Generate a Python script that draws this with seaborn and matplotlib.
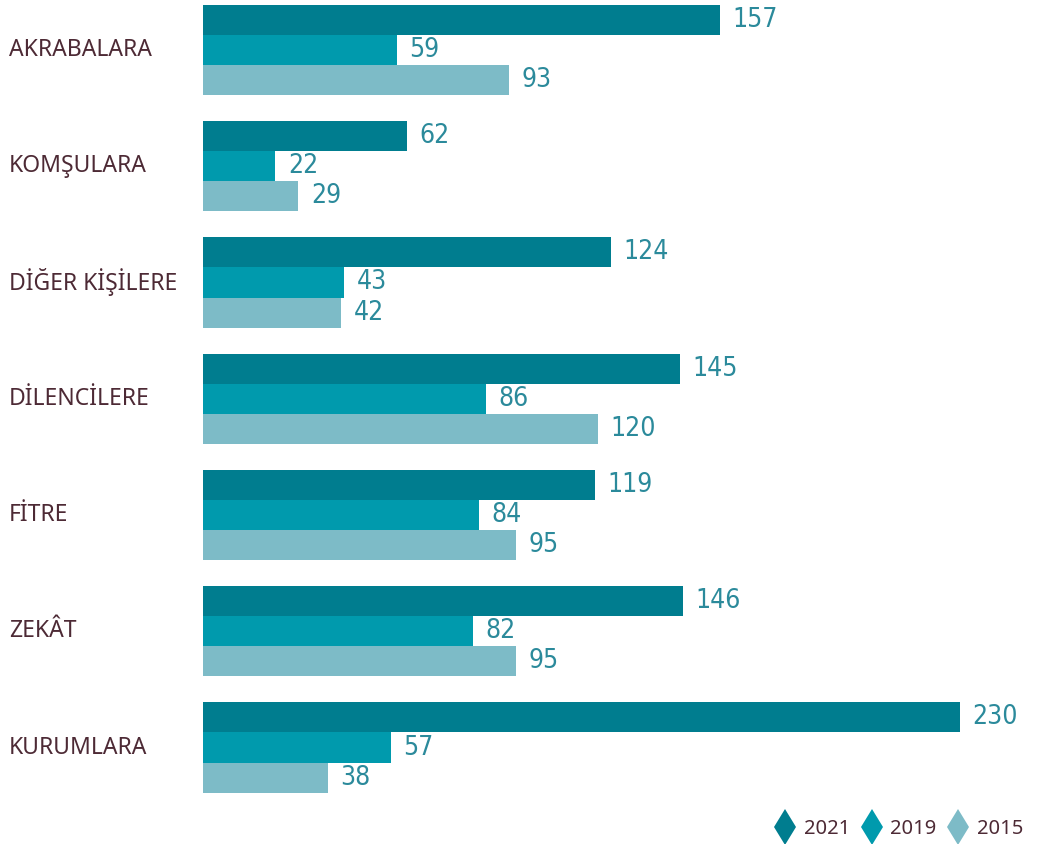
import pandas as pd
import matplotlib.pyplot as plt
import matplotlib.transforms as mtransforms
from matplotlib.lines import Line2D
import seaborn as sns

# --- Datos ---
kategoriler = ["AKRABALARA", "KOMŞULARA", "DİĞER KİŞİLERE", "DİLENCİLERE",
               "FİTRE", "ZEKÂT", "KURUMLARA"]
yillar = ["2021", "2019", "2015"]
v2021 = [157, 62, 124, 145, 119, 146, 230]
v2019 = [59, 22, 43, 86, 84, 82, 57]
v2015 = [93, 29, 42, 120, 95, 95, 38]

renkler = ["#007d8f", "#009aad", "#7dbbc7"]
yazi_rengi = "#4d2a35"
sayi_rengi = "#2b8a9b"

df = pd.DataFrame({
    "kategori": kategoriler * 3,
    "yil": [y for y in yillar for _ in kategoriler],
    "deger": v2021 + v2019 + v2015,
})

sns.set_style("white")
plt.rcParams["font.family"] = ["Noto Sans", "DejaVu Sans"]

fig = plt.figure(figsize=(10.45, 8.44), dpi=100)
ax = fig.add_axes([203 / 1045, 0, 1 - 203 / 1045, 1])

sns.barplot(data=df, y="kategori", x="deger", hue="yil", orient="h",
            palette=renkler, width=0.775, saturation=1, legend=False,
            errorbar=None, linewidth=0, ax=ax)

ax.set_xlim(0, 842 / 3.29)
ax.set_ylim(6.83, -0.43)
ax.set_xlabel("")
ax.set_ylabel("")
ax.set_xticks([])
ax.set_yticks([])
sns.despine(ax=ax, left=True, bottom=True)

# --- Etiketler ---
for cont in ax.containers:
    ax.bar_label(cont, padding=9, color=sayi_rengi, fontsize=19,
                 family="DejaVu Sans", fontstretch="condensed",
                 fontweight="light")

trans = mtransforms.blended_transform_factory(fig.transFigure, ax.transData)
for i, k in enumerate(kategoriler):
    ax.text(9 / 1045, i, k, transform=trans, ha="left", va="center",
            fontsize=16.5, color=yazi_rengi, fontweight="medium")

# --- Leyenda ---
handles = [Line2D([], [], marker="d", linestyle="none", color=c,
                  markersize=18, markeredgewidth=0) for c in renkler]
leg = fig.legend(handles, yillar, loc="center right", ncol=3, frameon=False,
                 bbox_to_anchor=(1023 / 1045, 15 / 844), borderpad=0,
                 borderaxespad=0, handletextpad=0.2, handlelength=1.4,
                 columnspacing=0.4, fontsize=14.5)
for t in leg.get_texts():
    t.set_color(yazi_rengi)

plt.savefig("out.png", dpi=100)
